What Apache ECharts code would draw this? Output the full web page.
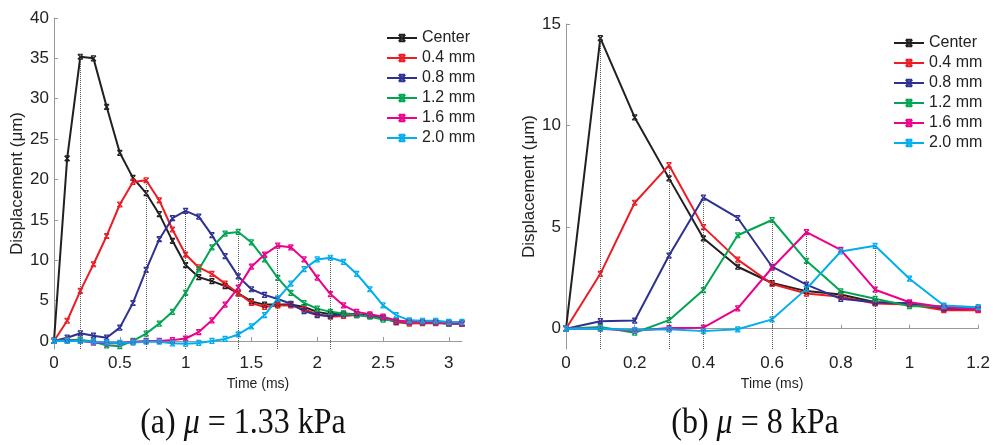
<!DOCTYPE html>
<html>
<head>
<meta charset="utf-8">
<script src="https://cdn.jsdelivr.net/npm/echarts@6/dist/echarts.min.js"></script>
<style>
  html, body { margin: 0; padding: 0; background: #fff; }
  #chart { width: 993px; height: 445px; }
</style>
</head>
<body>
<div id="chart"></div>
<script>
// (a) mu = 1.33 kPa
const timeA = [0, 0.1, 0.2, 0.3, 0.4, 0.5, 0.6, 0.7, 0.8, 0.9, 1.0, 1.1, 1.2, 1.3, 1.4, 1.5,
  1.6, 1.7, 1.8, 1.9, 2.0, 2.1, 2.2, 2.3, 2.4, 2.5, 2.6, 2.7, 2.8, 2.9, 3.0, 3.1];
const centerA = [0, 22.6, 35.2, 35.0, 29.0, 23.3, 20.2, 18.3, 15.7, 12.4, 9.4, 7.9, 7.4, 6.8, 5.9, 4.9,
  4.5, 4.5, 4.5, 4.2, 3.6, 3.3, 3.4, 3.3, 3.1, 2.85, 2.4, 2.3, 2.3, 2.3, 2.15, 2.15];
const mm04A = [0, 2.5, 6.2, 9.5, 13.0, 16.9, 19.7, 19.9, 17.4, 13.8, 10.7, 9.1, 8.3, 7.1, 5.9, 4.7,
  4.2, 4.4, 4.4, 3.9, 3.3, 3.0, 3.1, 3.2, 3.1, 2.85, 2.3, 2.15, 2.2, 2.2, 2.15, 2.15];
const mm08A = [0, 0.4, 0.95, 0.65, 0.4, 1.65, 4.7, 8.8, 12.6, 15.2, 16.1, 15.4, 13.1, 10.5, 8.0, 6.4,
  5.7, 5.2, 4.6, 3.7, 3.2, 3.1, 3.3, 3.3, 3.1, 2.85, 2.4, 2.4, 2.3, 2.3, 2.3, 2.15];
const mm12A = [0, 0.1, 0.15, -0.1, -0.55, -0.65, 0, 0.9, 2.15, 3.6, 5.95, 8.85, 11.6, 13.3, 13.5, 12.2,
  10.1, 7.8, 5.95, 4.7, 4.0, 3.6, 3.4, 3.2, 3.0, 2.65, 2.5, 2.3, 2.3, 2.3, 2.1, 2.1];
const mm16A = [0, 0.05, 0, -0.2, -0.3, -0.3, -0.1, 0, 0, 0.1, 0.3, 1.1, 2.55, 4.5, 6.6, 9.2,
  10.7, 11.8, 11.6, 10.1, 7.85, 5.8, 4.4, 3.6, 3.3, 3.0, 2.55, 2.35, 2.35, 2.35, 2.2, 2.15];
const mm20A = [0, 0, 0, -0.1, -0.2, -0.25, -0.2, -0.1, -0.1, -0.3, -0.35, -0.25, 0, 0.25, 0.8, 1.8,
  3.2, 5.25, 7.1, 8.9, 10.1, 10.3, 9.8, 8.3, 6.4, 4.4, 3.2, 2.55, 2.5, 2.5, 2.35, 2.35];
const xTicksA = [0, 0.5, 1, 1.5, 2, 2.5, 3];
const yTicksA = [0, 5, 10, 15, 20, 25, 30, 35, 40];

// (b) mu = 8 kPa
const timeB = [0, 0.1, 0.2, 0.3, 0.4, 0.5, 0.6, 0.7, 0.8, 0.9, 1.0, 1.1, 1.2];
const centerB = [0, 14.3, 10.4, 7.4, 4.45, 3.05, 2.25, 1.85, 1.68, 1.3, 1.24, 0.98, 0.95];
const mm04B = [0, 2.7, 6.2, 8.05, 5.0, 3.4, 2.2, 1.73, 1.57, 1.24, 1.19, 0.91, 0.91];
const mm08B = [0, 0.37, 0.4, 3.6, 6.45, 5.45, 3.05, 2.17, 1.47, 1.3, 1.24, 1.0, 0.98];
const mm12B = [0, 0.08, -0.2, 0.42, 1.9, 4.6, 5.35, 3.34, 1.84, 1.47, 1.11, 1.11, 1.0];
const mm16B = [0, 0, -0.1, 0.03, 0.05, 1.0, 3.0, 4.75, 3.88, 1.92, 1.3, 1.06, 0.95];
const mm20B = [0, 0, -0.07, -0.03, -0.12, -0.03, 0.46, 1.96, 3.8, 4.08, 2.46, 1.14, 1.06];
const xTicksB = [0, 0.2, 0.4, 0.6, 0.8, 1, 1.2];
const yTicksB = [0, 5, 10, 15];

const names = ['Center', '0.4 mm', '0.8 mm', '1.2 mm', '1.6 mm', '2.0 mm'];
const colors = ['#231f20', '#ed1c24', '#2e3192', '#00a651', '#ec008c', '#00aeef'];

const sans = 'Liberation Sans';
const marker = 'path://M0,0L10,10M10,0L0,10M0,0L10,0M0,10L10,10';

const makeSeries = (name, color, times, vals, ax, yMin) => {
  // dotted drop line under the peak
  let k = 0;
  vals.forEach((v, i) => { if (v > vals[k]) k = i; });
  return {
    name: name,
    type: 'line',
    xAxisIndex: ax,
    yAxisIndex: ax,
    data: times.map((t, i) => [t, vals[i]]),
    symbol: marker,
    symbolSize: 5,
    lineStyle: { color: color, width: 2 },
    itemStyle: { color: color, borderColor: color, borderWidth: 1.2 },
    emphasis: { disabled: true },
    markLine: {
      silent: true,
      symbol: 'none',
      label: { show: false },
      lineStyle: { type: 'dotted', color: '#555', width: 1 },
      data: [[{ coord: [times[k], yMin] }, { coord: [times[k], vals[k]] }]]
    }
  };
};

const axisLine = { lineStyle: { color: '#999', width: 1 } };
const tickStyle = { inside: true, length: 4, lineStyle: { color: '#999' } };
const labelStyle = { color: '#222', fontFamily: sans, fontSize: 17 };

const xAxis = (idx, max, ticks) => ({
  type: 'value', gridIndex: idx, min: 0, max: max,
  name: 'Time (ms)', nameLocation: 'middle', nameGap: 25,
  nameTextStyle: { color: '#222', fontFamily: sans, fontSize: 14 },
  axisLine: axisLine,
  axisTick: Object.assign({ customValues: ticks }, tickStyle),
  axisLabel: Object.assign({ customValues: ticks, margin: 6 }, labelStyle),
  splitLine: { show: false }
});
const yAxis = (idx, max, ticks, gap) => ({
  type: 'value', gridIndex: idx, min: -1, max: max,
  name: 'Displacement (\u03bcm)', nameLocation: 'middle', nameGap: gap,
  nameTextStyle: { color: '#222', fontFamily: sans, fontSize: 17 },
  axisLine: Object.assign({ show: true }, axisLine),
  axisTick: Object.assign({ show: true, customValues: ticks }, tickStyle),
  axisLabel: Object.assign({ customValues: ticks, margin: 5 }, labelStyle),
  splitLine: { show: false }
});

const legend = (left, top) => ({
  orient: 'vertical', left: left, top: top,
  itemWidth: 30, itemHeight: 8, itemGap: 4,
  textStyle: { color: '#222', fontFamily: sans, fontSize: 16, lineHeight: 16 },
  data: names,
  selectedMode: false
});

const seriesA = [centerA, mm04A, mm08A, mm12A, mm16A, mm20A]
  .map((v, i) => makeSeries(names[i], colors[i], timeA, v, 0, -1));
const seriesB = [centerB, mm04B, mm08B, mm12B, mm16B, mm20B]
  .map((v, i) => makeSeries(names[i], colors[i], timeB, v, 1, -1));

const caption = (x, label, value) => ({
  type: 'text', x: x, y: 424, scaleY: 1.12,
  style: {
    text: '{n|' + label + ' }{i|\u03bc}{n| = ' + value + '}',
    align: 'center', verticalAlign: 'middle',
    fill: '#111',
    rich: {
      n: { fontFamily: 'Liberation Serif', fontSize: 32, fill: '#111' },
      i: { fontFamily: 'Liberation Serif', fontSize: 32, fontStyle: 'italic', fill: '#111' }
    }
  }
});

const chart = echarts.init(document.getElementById('chart'));
chart.setOption({
  animation: false,
  backgroundColor: '#fff',
  grid: [
    { left: 54, top: 18, width: 408, height: 331 },
    { left: 566, top: 24, width: 415, height: 325 }
  ],
  xAxis: [xAxis(0, 3.1, xTicksA), xAxis(1, 1.2, xTicksB)],
  yAxis: [yAxis(0, 40, yTicksA, 28), yAxis(1, 15, yTicksB, 26)],
  legend: [legend(381, 25), legend(888, 30)],
  graphic: [caption(243, '(a)', '1.33 kPa'), caption(755, '(b)', '8 kPa')],
  series: seriesA.concat(seriesB)
});
</script>
</body>
</html>
